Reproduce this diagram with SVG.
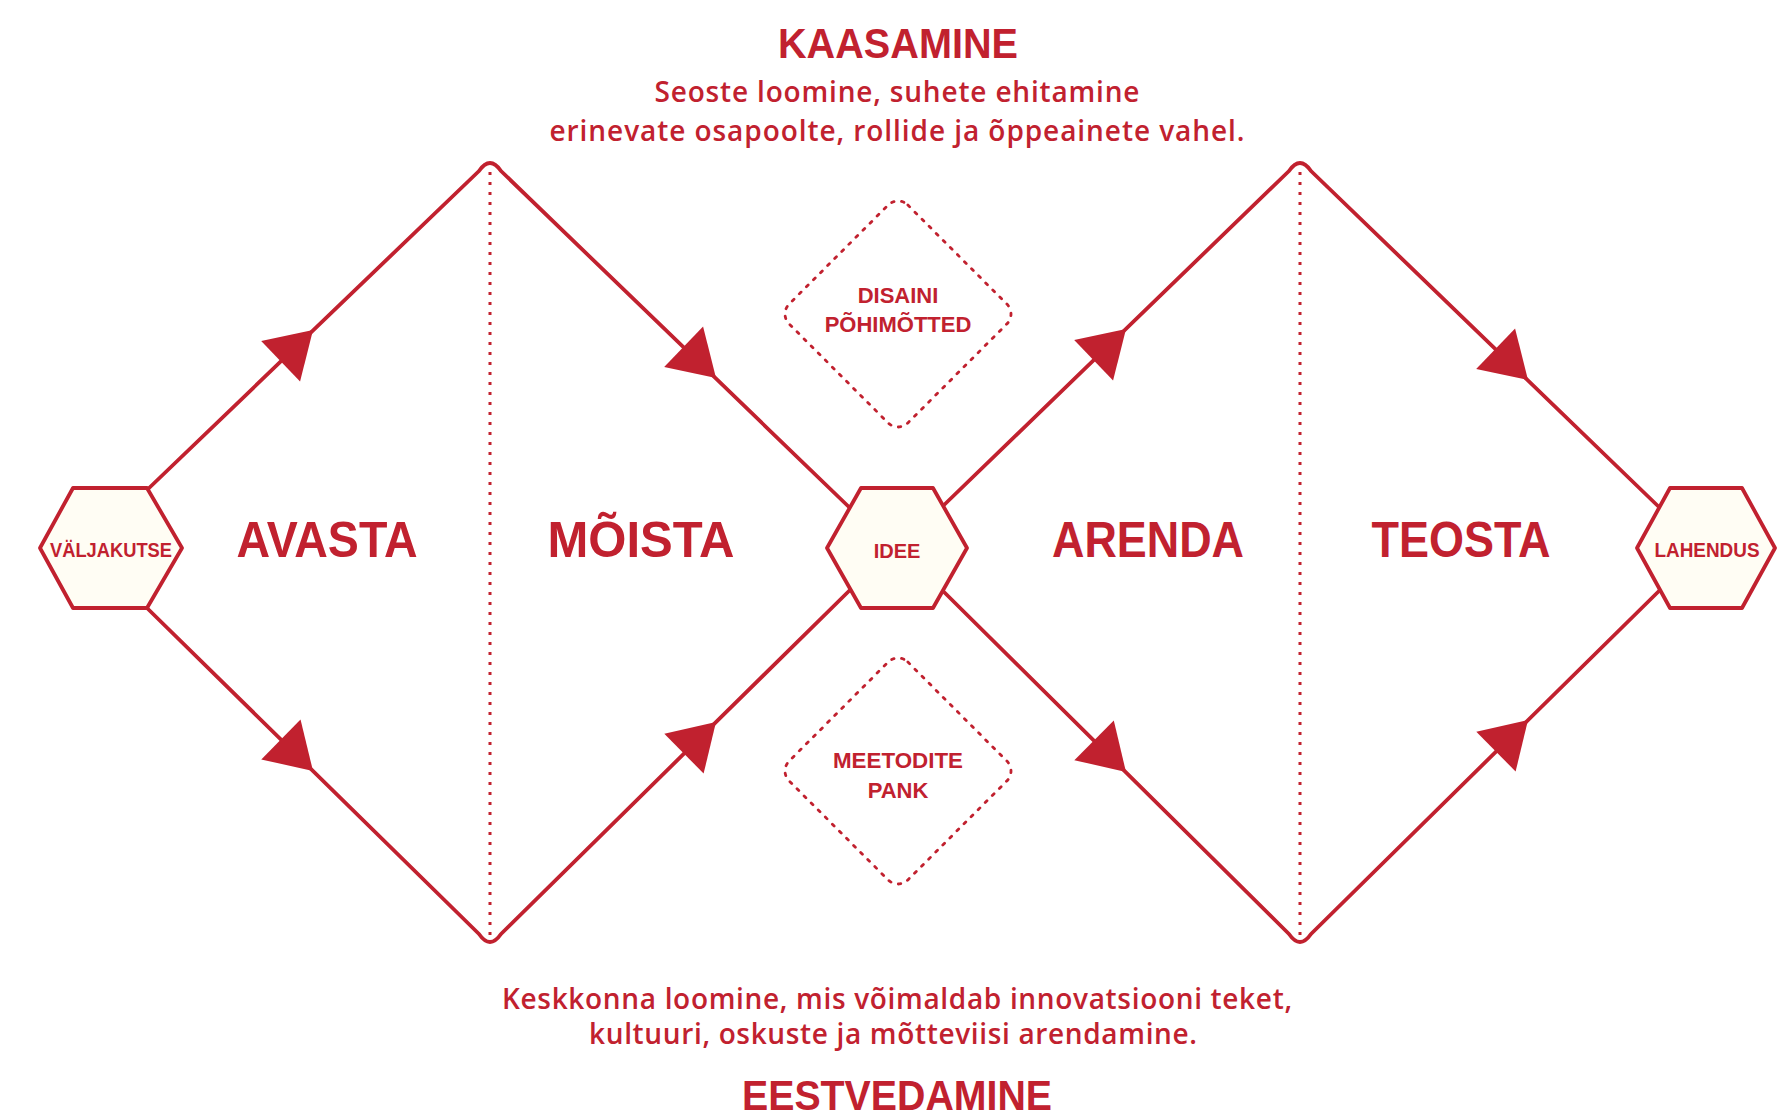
<svg xmlns="http://www.w3.org/2000/svg" width="1777" height="1119" viewBox="0 0 1777 1119">
<style>
.bg{fill:#ffffff}
.line{fill:none;stroke:#C1212F;stroke-width:3.8;stroke-linecap:round;stroke-linejoin:round}
.dotv{fill:none;stroke:#C1212F;stroke-width:3;stroke-dasharray:3 7}
.dotd{fill:none;stroke:#C1212F;stroke-width:2.8;stroke-dasharray:2.5 7.5;stroke-linecap:round}
.hex{fill:#FFFDF4;stroke:#C1212F;stroke-width:3.8;stroke-linejoin:round}
.arr{fill:#C1212F}
text{fill:#C1212F;font-family:"Liberation Sans",Arial,sans-serif}
.big{font-size:50px;font-weight:bold;text-anchor:middle}
.head{font-size:42px;font-weight:bold;text-anchor:middle}
.sub{font-size:28px;font-family:"Open Sans","Liberation Sans",sans-serif;font-weight:600;text-anchor:middle}
.node{font-size:20px;font-weight:bold;text-anchor:middle}
.small{font-size:22px;font-weight:bold;text-anchor:middle}
</style>
<defs>
<path id="arrow" d="M0,0 L-45,-28 L-45,28 Z"/>
</defs>
<rect class="bg" x="0" y="0" width="1777" height="1119"/>

<g id="connectors">
<path class="line" d="M147,490 L479,171 Q490,155 501,171 L850,508"/>
<path class="line" d="M147,608 L479,934 Q490,950 501,934 L850,590"/>
<path class="line" d="M944,505 L1289,171 Q1300,155 1311,171 L1660,508"/>
<path class="line" d="M944,592 L1289,934 Q1300,950 1311,934 L1660,590"/>
<line class="dotv" x1="490" y1="172" x2="490" y2="938"/>
<line class="dotv" x1="1300" y1="172" x2="1300" y2="938"/>
<use href="#arrow" class="arr" transform="translate(313,330) rotate(-44)"/>
<use href="#arrow" class="arr" transform="translate(716,378) rotate(44)"/>
<use href="#arrow" class="arr" transform="translate(313,771) rotate(44.5)"/>
<use href="#arrow" class="arr" transform="translate(716,722) rotate(-44.6)"/>
<use href="#arrow" class="arr" transform="translate(1126,329) rotate(-44)"/>
<use href="#arrow" class="arr" transform="translate(1528,380) rotate(44)"/>
<use href="#arrow" class="arr" transform="translate(1126,772) rotate(44.8)"/>
<use href="#arrow" class="arr" transform="translate(1528,720) rotate(-44.6)"/>
</g>

<g id="node-valjakutse">
<polygon class="hex" points="73,488 147,488 182,548 147,608 73,608 40,548"/>
<text class="node" x="111" y="557" textLength="122" lengthAdjust="spacingAndGlyphs">VÄLJAKUTSE</text>
</g>
<g id="node-idee">
<polygon class="hex" points="861,488 933,488 967,548 933,608 861,608 827,548"/>
<text class="node" x="897" y="558">IDEE</text>
</g>
<g id="node-lahendus">
<polygon class="hex" points="1670,488 1742,488 1775,548 1742,608 1670,608 1637,548"/>
<text class="node" x="1707" y="557" textLength="105" lengthAdjust="spacingAndGlyphs">LAHENDUS</text>
</g>
<g id="node-disaini">
<rect class="dotd" x="-84" y="-84" width="168" height="168" rx="14" transform="translate(898,314) rotate(45)"/>
<text class="small" x="898" y="303">DISAINI</text>
<text class="small" x="898" y="332">PÕHIMÕTTED</text>
</g>
<g id="node-meetodite">
<rect class="dotd" x="-84" y="-84" width="168" height="168" rx="14" transform="translate(898,771) rotate(45)"/>
<text class="small" x="898" y="768" textLength="130" lengthAdjust="spacingAndGlyphs">MEETODITE</text>
<text class="small" x="898" y="798">PANK</text>
</g>

<g id="labels">
<text class="big" x="327" y="557" textLength="181" lengthAdjust="spacingAndGlyphs">AVASTA</text>
<text class="big" x="641" y="557" textLength="187" lengthAdjust="spacingAndGlyphs">MÕISTA</text>
<text class="big" x="1148" y="557" textLength="192" lengthAdjust="spacingAndGlyphs">ARENDA</text>
<text class="big" x="1461" y="557" textLength="179" lengthAdjust="spacingAndGlyphs">TEOSTA</text>
<text class="head" x="898" y="58" textLength="240" lengthAdjust="spacingAndGlyphs">KAASAMINE</text>
<text class="sub" x="897" y="102" textLength="485">Seoste loomine, suhete ehitamine</text>
<text class="sub" x="897" y="141" textLength="695">erinevate osapoolte, rollide ja õppeainete vahel.</text>
<text class="sub" x="897" y="1009" textLength="790">Keskkonna loomine, mis võimaldab innovatsiooni teket,</text>
<text class="sub" x="893" y="1044" textLength="608">kultuuri, oskuste ja mõtteviisi arendamine.</text>
<text class="head" x="897" y="1110" textLength="310" lengthAdjust="spacingAndGlyphs">EESTVEDAMINE</text>
</g>
</svg>
